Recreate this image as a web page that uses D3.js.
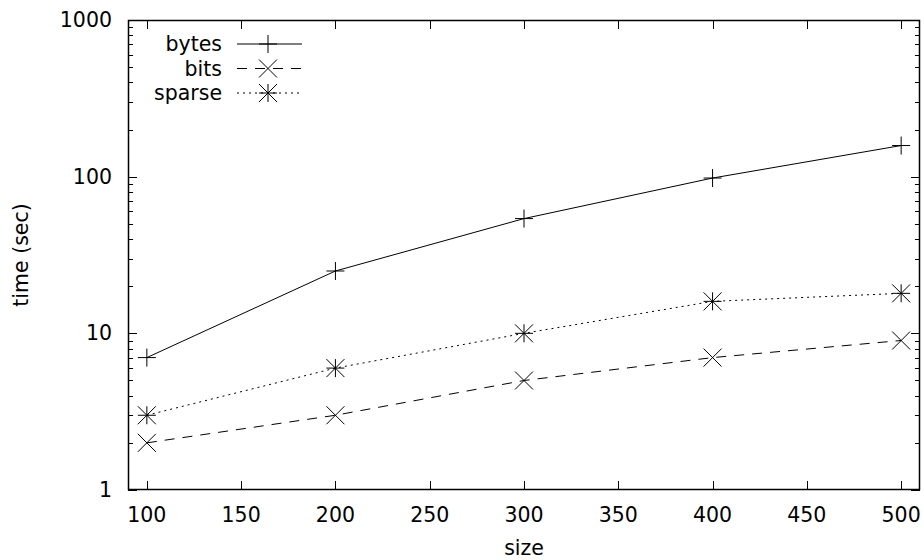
<!DOCTYPE html>
<html>
<head>
<meta charset="utf-8">
<script src="https://cdn.jsdelivr.net/npm/d3@7"></script>
<style>
  body { margin: 0; background: #fff; }
  svg text { font-family: "DejaVu Sans", sans-serif; font-size: 20.5px; fill: #000; }
</style>
</head>
<body>
<div id="main"></div>
<script>
// data
const sizes = [100, 200, 300, 400, 500];
const bytesTime = [7, 25, 54, 98, 158];
const bitsTime = [2, 3, 5, 7, 9];
const sparseTime = [3, 6, 10, 16, 18];
const xTicks = [100, 150, 200, 250, 300, 350, 400, 450, 500];
const yTicks = [1, 10, 100, 1000];

const series = [
  { name: 'bytes', values: bytesTime, dash: null, marker: 'plus' },
  { name: 'bits', values: bitsTime, dash: '10,8', marker: 'cross' },
  { name: 'sparse', values: sparseTime, dash: '2,4', marker: 'star' }
];

const W = 924, H = 560;
const MARGIN = { top: 20, right: 4, bottom: 70, left: 128 };

const svg = d3.select('#main').append('svg')
  .attr('width', W).attr('height', H);

const xScale = d3.scaleLinear().domain([90, 510]).range([MARGIN.left, W - MARGIN.right]);
const yScale = d3.scaleLog().domain([1, 1000]).range([H - MARGIN.bottom, MARGIN.top]);

const x0 = xScale.range()[0], x1 = xScale.range()[1];
const y0 = yScale.range()[0], y1 = yScale.range()[1];

const tickG = svg.append('g').attr('stroke', '#000').attr('stroke-width', 1);

// x ticks, bottom and top (inward)
xTicks.forEach((t) => {
  const x = Math.round(xScale(t)) + 0.5;
  tickG.append('line').attr('x1', x).attr('x2', x).attr('y1', y0).attr('y2', y0 - 9);
  tickG.append('line').attr('x1', x).attr('x2', x).attr('y1', y1).attr('y2', y1 + 9);
  svg.append('text').attr('x', xScale(t)).attr('y', y0 + 32)
    .attr('text-anchor', 'middle').text(t);
});

// y ticks, major and minor, left and right
for (let d = 1; d < 1000; d *= 10) {
  for (let m = 2; m <= 9; m++) {
    const y = Math.round(yScale(d * m)) + 0.5;
    tickG.append('line').attr('x1', x0).attr('x2', x0 + 5).attr('y1', y).attr('y2', y);
    tickG.append('line').attr('x1', x1).attr('x2', x1 - 5).attr('y1', y).attr('y2', y);
  }
}
yTicks.forEach((t) => {
  const y = Math.round(yScale(t)) + 0.5;
  tickG.append('line').attr('x1', x0).attr('x2', x0 + 9).attr('y1', y).attr('y2', y);
  tickG.append('line').attr('x1', x1).attr('x2', x1 - 9).attr('y1', y).attr('y2', y);
  svg.append('text').attr('x', x0 - 16).attr('y', yScale(t) + 7)
    .attr('text-anchor', 'end').text(t);
});

// frame
svg.append('rect')
  .attr('x', x0 + 0.5).attr('y', y1 + 0.5)
  .attr('width', x1 - x0 - 1).attr('height', y0 - y1 - 1)
  .attr('fill', 'none').attr('stroke', '#000').attr('stroke-width', 1.5);

// axis labels
svg.append('text').attr('x', (x0 + x1) / 2).attr('y', H - 5)
  .attr('text-anchor', 'middle').text('size');
svg.append('text')
  .attr('transform', `translate(28,${(y0 + y1) / 2}) rotate(-90)`)
  .attr('text-anchor', 'middle').text('time (sec)');

const markerPath = (type, s) => {
  if (type === 'plus') return `M${-s},0H${s}M0,${-s}V${s}`;
  if (type === 'cross') return `M${-s},${-s}L${s},${s}M${-s},${s}L${s},${-s}`;
  return `M${-s},0H${s}M0,${-s}V${s}M${-s},${-s}L${s},${s}M${-s},${s}L${s},${-s}`;
};

const line = d3.line()
  .x((d, i) => xScale(sizes[i]))
  .y((d) => yScale(d));

series.forEach((s, k) => {
  svg.append('path')
    .attr('d', line(s.values))
    .attr('fill', 'none').attr('stroke', '#000').attr('stroke-width', 1)
    .attr('stroke-dasharray', s.dash);

  svg.selectAll(`.m${k}`).data(s.values).enter().append('path')
    .attr('class', `m${k}`)
    .attr('transform', (d, i) => `translate(${xScale(sizes[i])},${yScale(d)})`)
    .attr('d', markerPath(s.marker, 9))
    .attr('fill', 'none').attr('stroke', '#000').attr('stroke-width', 1);

  // legend
  const ly = 44 + k * 24.5;
  svg.append('text').attr('x', 222).attr('y', ly + 7).attr('text-anchor', 'end').text(s.name);
  svg.append('line').attr('x1', 237).attr('x2', 302).attr('y1', ly).attr('y2', ly)
    .attr('stroke', '#000').attr('stroke-width', 1).attr('stroke-dasharray', s.dash);
  svg.append('path').attr('transform', `translate(268,${ly})`)
    .attr('d', markerPath(s.marker, 9))
    .attr('fill', 'none').attr('stroke', '#000').attr('stroke-width', 1);
});
</script>
</body>
</html>
